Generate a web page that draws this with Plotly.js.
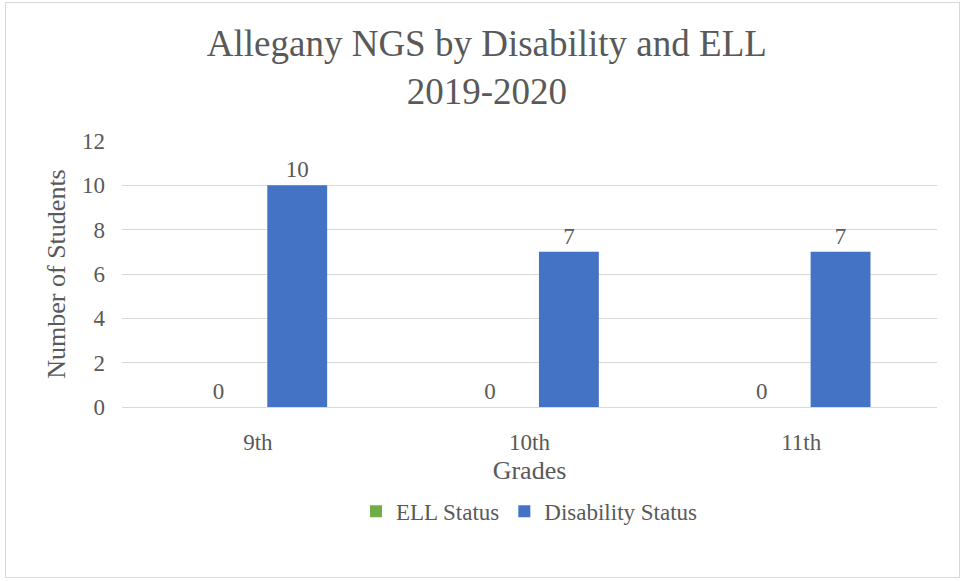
<!DOCTYPE html>
<html>
<head>
<meta charset="utf-8">
<script src="https://cdn.plot.ly/plotly-3.0.1.min.js"></script>
<style>
html,body{margin:0;padding:0;background:#fff;}
#wrap{position:relative;width:964px;height:581px;}
#chart{position:absolute;left:0;top:0;width:964px;height:581px;}
#frame{position:absolute;left:5px;top:2px;width:953px;height:574px;border:1.5px solid #d9d9d9;pointer-events:none;}
</style>
</head>
<body>
<div id="wrap"><div id="chart"></div><div id="frame"></div></div>
<script>
const grades = ["9th", "10th", "11th"];
const ellStatus = [0, 0, 0];
const disabilityStatus = [10, 7, 7];
const yTicks = [0, 2, 4, 6, 8, 10, 12];

const FONT = "'Liberation Serif', 'Times New Roman', Times, serif";
const TXT = "#595959";
const LBL = 23;

const traces = [
  {type: "bar", name: "ELL Status", x: grades, y: ellStatus,
   marker: {color: "#70AD47"}, text: ellStatus.map(String), textposition: "outside",
   textfont: {family: FONT, size: LBL, color: TXT}, cliponaxis: false},
  {type: "bar", name: "Disability Status", x: grades, y: disabilityStatus,
   marker: {color: "#4472C4"}, text: disabilityStatus.map(String), textposition: "outside",
   textfont: {family: FONT, size: LBL, color: TXT}, cliponaxis: false}
];

const layout = {
  width: 964, height: 581,
  margin: {l: 122, r: 27, t: 141, b: 174},
  paper_bgcolor: "#fff", plot_bgcolor: "#fff",
  font: {family: FONT, color: TXT, size: LBL},
  title: {text: "Allegany NGS by Disability and ELL<br>2019-2020", font: {family: FONT, size: 37, color: TXT},
          xref: "container", x: 0.505, xanchor: "center", yref: "container", y: 0.904, yanchor: "middle"},
  barmode: "group", bargap: 0.42, bargroupgap: 0.24,
  xaxis: {title: {text: "Grades", font: {family: FONT, size: 26, color: TXT}, standoff: 7},
          tickfont: {family: FONT, size: LBL, color: TXT}, showline: true, linecolor: "#d9d9d9", linewidth: 1,
          ticks: "", ticklabelstandoff: 14, fixedrange: true},
  yaxis: {title: {text: "Number of Students", font: {family: FONT, size: 26, color: TXT}, standoff: 8},
          range: [0, 12], tickvals: yTicks, ticktext: yTicks.map(String),
          tickfont: {family: FONT, size: LBL, color: TXT}, gridcolor: "#d9d9d9", gridwidth: 1,
          zeroline: true, zerolinecolor: "#d9d9d9", showline: false, ticks: "", ticklabelstandoff: 16},
  legend: {orientation: "h", x: 0.5, xanchor: "center", y: -0.392, yanchor: "middle",
           font: {family: FONT, size: LBL, color: TXT}, itemwidth: 30, traceorder: "normal"},
  showlegend: true
};

Plotly.newPlot("chart", traces, layout, {displayModeBar: false, staticPlot: true});
</script>
</body>
</html>
